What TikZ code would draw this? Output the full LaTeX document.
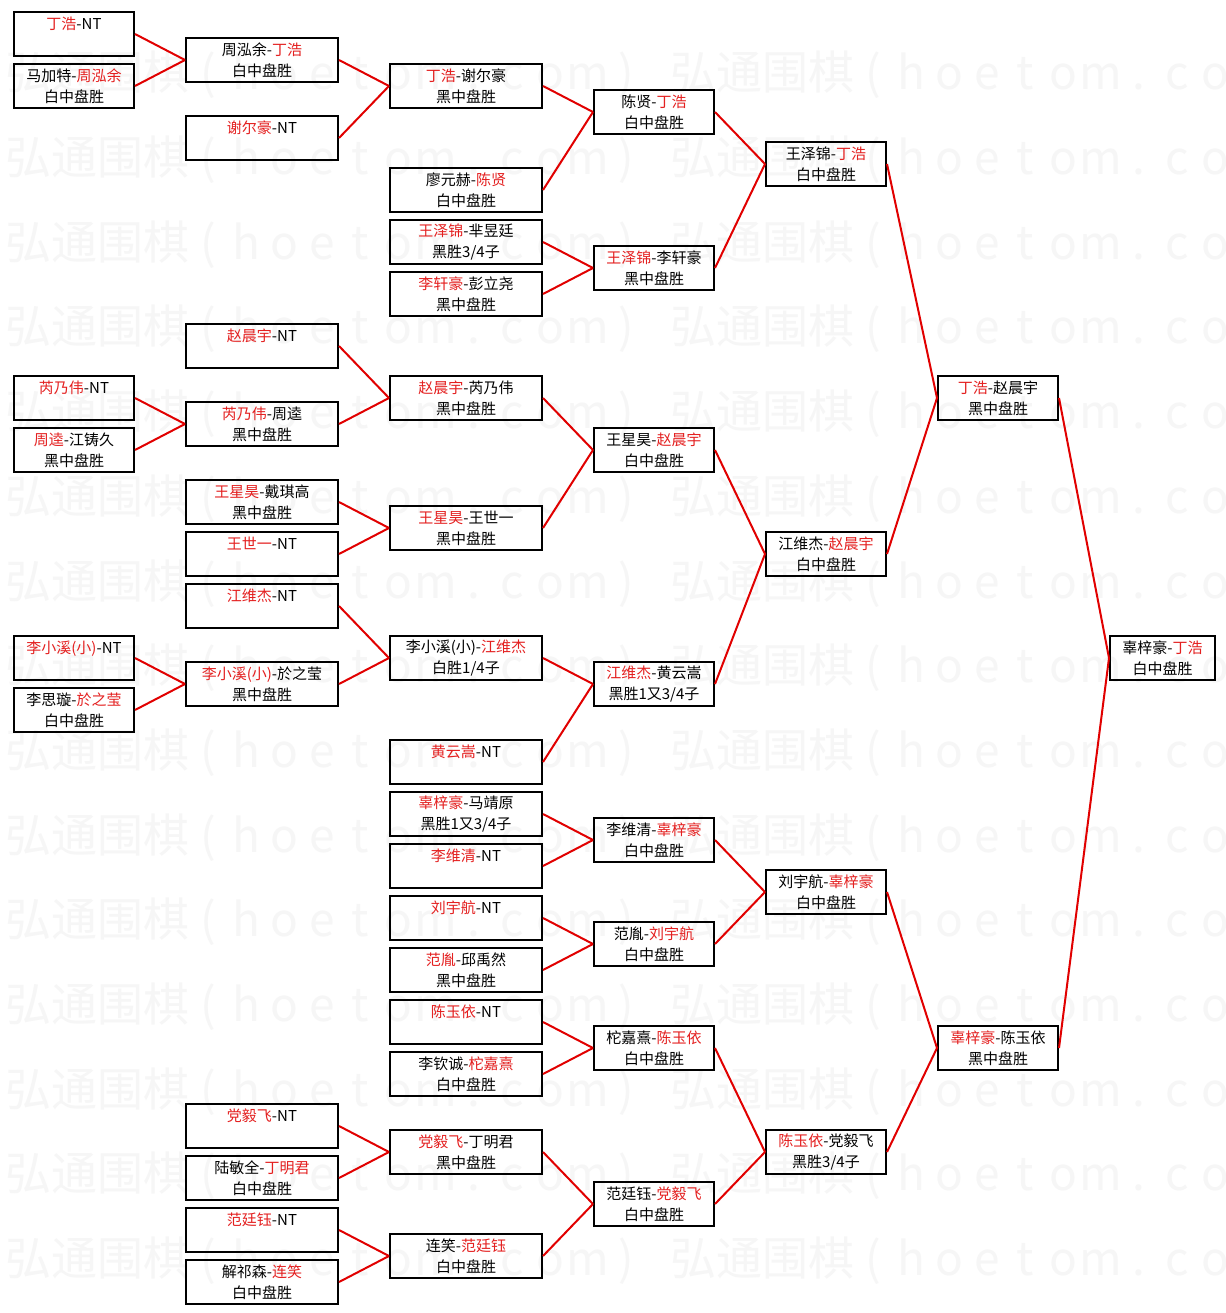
\documentclass[tikz,border=0pt]{standalone}
\usepackage{fontspec}
\setmainfont{Noto Sans CJK SC}
\definecolor{wr}{RGB}{228,32,32}
\definecolor{ln}{RGB}{225,0,0}
\definecolor{wm}{RGB}{246,246,246}
\newcommand\rn[1]{\textcolor{wr}{#1}}
\newcommand\blankln{\phantom{白}}
\newcommand\wc[1]{\makebox[38pt]{#1}}
\newcommand\wmtext{弘通围棋\wc{(}\wc{h}\wc{o}\wc{e}\wc{t}\wc{o}\wc{m}\wc{.}\wc{c}\wc{o}\wc{m}\wc{)}}
\begin{document}
\begin{tikzpicture}[x=1pt,y=-1pt,
  box/.style={draw=black, line width=2pt, inner sep=0pt, minimum height=44pt, anchor=north west, align=center, font=\fontsize{15}{21}\selectfont},
  wA/.style={box, minimum width=120pt},
  wB/.style={box, minimum width=152pt},
  wG/.style={box, minimum width=105pt},
  link/.style={draw=ln, line width=2pt},
  wmk/.style={text=wm, font=\fontsize{46}{46}\selectfont, anchor=west, inner sep=0pt}
]
\fill[white] (0,0) rectangle (1225,1313);
\useasboundingbox (0,0) rectangle (1225,1313);
% watermark
\begin{scope}
\clip (0,0) rectangle (1225,1313);
\foreach \k in {0,...,14}{
  \node[wmk] (wma\k) at (5,75+84.7*\k) {\wmtext};
  \node[wmk] (wmb\k) at (670,75+84.7*\k) {\wmtext};
}
\end{scope}
% column 1
\node[wA] (A1) at (13,11) {\rn{丁浩}-NT\\\blankln};
\node[wA] (A2) at (13,63) {马加特-\rn{周泓余}\\白中盘胜};
\node[wA] (A3) at (13,375) {\rn{芮乃伟}-NT\\\blankln};
\node[wA] (A4) at (13,427) {\rn{周逵}-江铸久\\黑中盘胜};
\node[wA] (A5) at (13,635) {\rn{李小溪(小)}-NT\\\blankln};
\node[wA] (A6) at (13,687) {李思璇-\rn{於之莹}\\白中盘胜};
% column 2
\node[wB] (B1) at (185,37) {周泓余-\rn{丁浩}\\白中盘胜};
\node[wB] (B2) at (185,115) {\rn{谢尔豪}-NT\\\blankln};
\node[wB] (B3) at (185,323) {\rn{赵晨宇}-NT\\\blankln};
\node[wB] (B4) at (185,401) {\rn{芮乃伟}-周逵\\黑中盘胜};
\node[wB] (B5) at (185,479) {\rn{王星昊}-戴琪高\\黑中盘胜};
\node[wB] (B6) at (185,531) {\rn{王世一}-NT\\\blankln};
\node[wB] (B7) at (185,583) {\rn{江维杰}-NT\\\blankln};
\node[wB] (B8) at (185,661) {\rn{李小溪(小)}-於之莹\\黑中盘胜};
\node[wB] (B9) at (185,1103) {\rn{党毅飞}-NT\\\blankln};
\node[wB] (B10) at (185,1155) {陆敏全-\rn{丁明君}\\白中盘胜};
\node[wB] (B11) at (185,1207) {\rn{范廷钰}-NT\\\blankln};
\node[wB] (B12) at (185,1259) {解祁森-\rn{连笑}\\白中盘胜};
% column 3
\node[wB] (C1) at (389,63) {\rn{丁浩}-谢尔豪\\黑中盘胜};
\node[wB] (C2) at (389,167) {廖元赫-\rn{陈贤}\\白中盘胜};
\node[wB] (C3) at (389,219) {\rn{王泽锦}-芈昱廷\\黑胜3/4子};
\node[wB] (C4) at (389,271) {\rn{李轩豪}-彭立尧\\黑中盘胜};
\node[wB] (C5) at (389,375) {\rn{赵晨宇}-芮乃伟\\黑中盘胜};
\node[wB] (C6) at (389,505) {\rn{王星昊}-王世一\\黑中盘胜};
\node[wB] (C7) at (389,635) {李小溪(小)-\rn{江维杰}\\白胜1/4子};
\node[wB] (C8) at (389,739) {\rn{黄云嵩}-NT\\\blankln};
\node[wB] (C9) at (389,791) {\rn{辜梓豪}-马靖原\\黑胜1又3/4子};
\node[wB] (C10) at (389,843) {\rn{李维清}-NT\\\blankln};
\node[wB] (C11) at (389,895) {\rn{刘宇航}-NT\\\blankln};
\node[wB] (C12) at (389,947) {\rn{范胤}-邱禹然\\黑中盘胜};
\node[wB] (C13) at (389,999) {\rn{陈玉依}-NT\\\blankln};
\node[wB] (C14) at (389,1051) {李钦诚-\rn{柁嘉熹}\\白中盘胜};
\node[wB] (C15) at (389,1129) {\rn{党毅飞}-丁明君\\黑中盘胜};
\node[wB] (C16) at (389,1233) {连笑-\rn{范廷钰}\\白中盘胜};
% column 4
\node[wA] (D1) at (593,89) {陈贤-\rn{丁浩}\\白中盘胜};
\node[wA] (D2) at (593,245) {\rn{王泽锦}-李轩豪\\黑中盘胜};
\node[wA] (D3) at (593,427) {王星昊-\rn{赵晨宇}\\白中盘胜};
\node[wA] (D4) at (593,661) {\rn{江维杰}-黄云嵩\\黑胜1又3/4子};
\node[wA] (D5) at (593,817) {李维清-\rn{辜梓豪}\\白中盘胜};
\node[wA] (D6) at (593,921) {范胤-\rn{刘宇航}\\白中盘胜};
\node[wA] (D7) at (593,1025) {柁嘉熹-\rn{陈玉依}\\白中盘胜};
\node[wA] (D8) at (593,1181) {范廷钰-\rn{党毅飞}\\白中盘胜};
% column 5
\node[wA] (E1) at (765,141) {王泽锦-\rn{丁浩}\\白中盘胜};
\node[wA] (E2) at (765,531) {江维杰-\rn{赵晨宇}\\白中盘胜};
\node[wA] (E3) at (765,869) {刘宇航-\rn{辜梓豪}\\白中盘胜};
\node[wA] (E4) at (765,1129) {\rn{陈玉依}-党毅飞\\黑胜3/4子};
% column 6
\node[wA] (F1) at (937,375) {\rn{丁浩}-赵晨宇\\黑中盘胜};
\node[wA] (F2) at (937,1025) {\rn{辜梓豪}-陈玉依\\黑中盘胜};
% column 7
\node[wG] (G1) at (1109,635) {辜梓豪-\rn{丁浩}\\白中盘胜};
% connectors
\foreach \a/\b in {A1/B1,A2/B1,B1/C1,B2/C1,C1/D1,C2/D1,C3/D2,C4/D2,D1/E1,D2/E1,
  A3/B4,A4/B4,B3/C5,B4/C5,B5/C6,B6/C6,C5/D3,C6/D3,
  A5/B8,A6/B8,B7/C7,B8/C7,C7/D4,C8/D4,D3/E2,D4/E2,E1/F1,E2/F1,
  C9/D5,C10/D5,C11/D6,C12/D6,D5/E3,D6/E3,
  C13/D7,C14/D7,B9/C15,B10/C15,B11/C16,B12/C16,C15/D8,C16/D8,D7/E4,D8/E4,
  E3/F2,E4/F2,F1/G1,F2/G1}{
  \draw[link] (\a.east) -- (\b.west);
}
\end{tikzpicture}
\end{document}
